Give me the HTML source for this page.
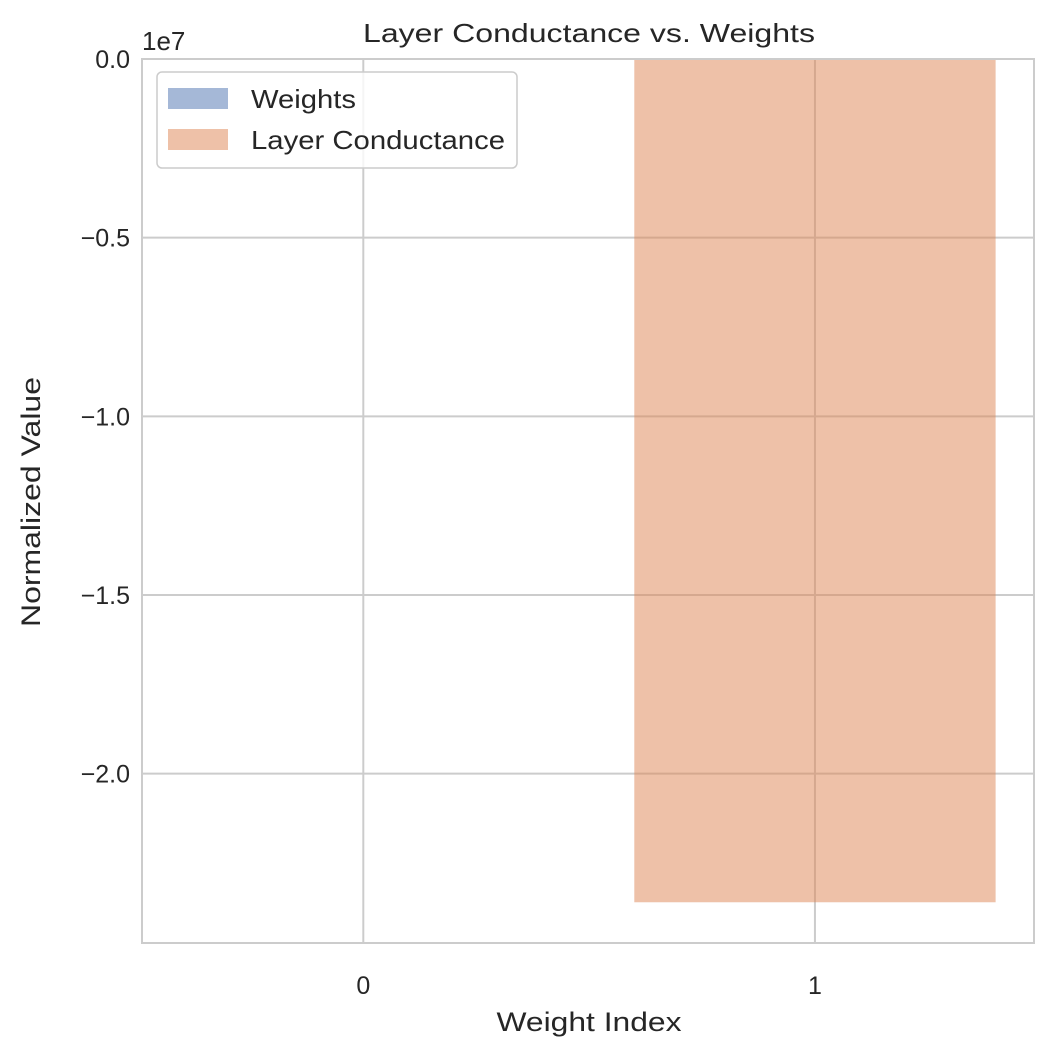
<!DOCTYPE html>
<html><head><meta charset="utf-8"><style>
body{margin:0;background:#fff;}
svg text{font-family:"Liberation Sans","DejaVu Sans",sans-serif;fill:#262626;}
</style></head><body>
<svg id="chart" width="1054" height="1057" viewBox="0 0 1054 1057">
<rect width="1054" height="1057" fill="#fff"/>
<g id="grid"></g>
<g id="bars"></g>
<rect x="142" y="59" width="892" height="884" fill="none" stroke="#cccccc" stroke-width="2"/>
<g id="ticks"></g>
<text x="589" y="42" font-size="26" text-anchor="middle" textLength="452" lengthAdjust="spacingAndGlyphs">Layer Conductance vs. Weights</text>
<text x="589" y="1031" font-size="27" text-anchor="middle" textLength="185" lengthAdjust="spacingAndGlyphs">Weight Index</text>
<text x="40" y="502" font-size="27" text-anchor="middle" textLength="250" lengthAdjust="spacingAndGlyphs" transform="rotate(-90 40 502)">Normalized Value</text>
<text x="142" y="50" font-size="26" text-anchor="start">1e7</text>
<g>
<rect x="157" y="72" width="360" height="96" rx="5" fill="#fff" fill-opacity="0.8" stroke="#cccccc" stroke-width="1.5"/>
<rect x="168" y="88" width="60" height="21" fill="#4c72b0" fill-opacity="0.5"/>
<text x="251" y="108" font-size="26" textLength="105" lengthAdjust="spacingAndGlyphs">Weights</text>
<rect x="168" y="129" width="60" height="21" fill="#dd8452" fill-opacity="0.5"/>
<text x="251" y="149" font-size="26" textLength="254" lengthAdjust="spacingAndGlyphs">Layer Conductance</text>
</g>
</svg>
<script>
const categories=[0,1];
const weights=[0.0001,0.0];
const conductance=[0.0,-2.36];
const yTicks=[0,-0.5,-1.0,-1.5,-2.0];
const yTickLabels=["0.0","\u22120.5","\u22121.0","\u22121.5","\u22122.0"];
const X0=142,X1=1034,Y0=59,Y1=943;
const xMin=-0.49,xMax=1.485,yMax=0,yMin=-2.474;
const xs=v=>X0+(v-xMin)/(xMax-xMin)*(X1-X0);
const ys=v=>Y0+(yMax-v)/(yMax-yMin)*(Y1-Y0);
const NS="http://www.w3.org/2000/svg";
const grid=document.getElementById('grid'),bars=document.getElementById('bars'),ticks=document.getElementById('ticks');
function mk(t,a){const e=document.createElementNS(NS,t);for(const k in a)e.setAttribute(k,a[k]);return e;}
yTicks.forEach((v,i)=>{
 const l=mk('line',{x1:X0,x2:X1,y1:ys(v),y2:ys(v),stroke:'#cccccc','stroke-width':2});
 
 
 grid.appendChild(l);
 const t=mk('text',{x:X0-12,y:ys(v)+9,'font-size':25,'text-anchor':'end'});
 t.textContent=yTickLabels[i];
 
 
 ticks.appendChild(t);
});
categories.forEach((c,i)=>{
 const l=mk('line',{x1:xs(c),x2:xs(c),y1:Y0,y2:Y1,stroke:'#cccccc','stroke-width':2});
 
 
 grid.appendChild(l);
 const t=mk('text',{x:xs(c),y:Y1+51,'font-size':25,'text-anchor':'middle'});
 t.textContent=String(c);
 
 
 ticks.appendChild(t);
 const w=0.8;
 [[weights,'#4c72b0','bar-weights'],[conductance,'#dd8452','bar-conductance']].forEach(([arr,col,nm])=>{
  const v=arr[i];
  const y=Math.min(ys(0),ys(v)),h=Math.abs(ys(v)-ys(0));
  const r=mk('rect',{x:xs(c-w/2),y:y,width:xs(c+w/2)-xs(c-w/2),height:h,fill:col,'fill-opacity':0.5});
  
  
  bars.appendChild(r);
 });
});
</script>
</body></html>
